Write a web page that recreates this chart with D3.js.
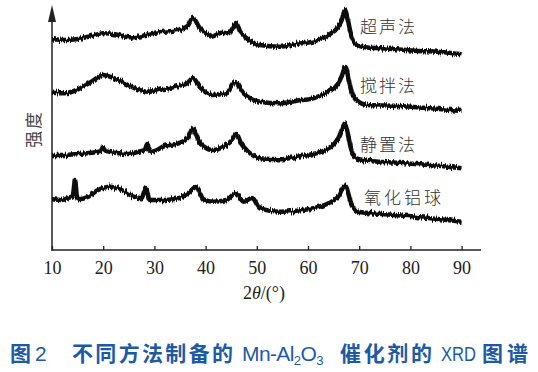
<!DOCTYPE html>
<html>
<head>
<meta charset="utf-8">
<script src="https://cdn.jsdelivr.net/npm/d3@7"></script>
<style>
  html, body { margin: 0; padding: 0; background: #fff; }
  svg { display: block; }
</style>
</head>
<body>
<svg id="chart" width="538" height="372"></svg>
<script>
// ---- Data (2θ in degrees, intensity in arbitrary units incl. vertical offsets) ----
const seriesNames = ["超声法", "搅拌法", "静置法", "氧化铝球"];

const theta1 = [10,12.5,15.1,17.7,20,22.3,24.9,26.9,29.5,32,35,36.5,37.5,38.9,40,41.2,43.1,44.4,45.2,45.9,46.8,48,50.6,54.5,57.8,61,64,65.9,66.6,67.2,67.8,68.2,69.2,71.1,74.4,80.9,87.4,90];
const inten1 = [210.7,210,211,214,216.7,215.7,212.7,213.3,216.7,218.3,220.7,224,232,221.7,217,213.3,217.3,216.7,221,227,218,211.7,205,203.3,206,208.3,215,223.3,230,240,230,220,206.7,202.7,201.7,199.3,197.3,195.7];

const theta2 = [10,12.5,15.1,17.7,20,21.7,23.6,26.2,28.8,31.4,34.7,36.5,37.5,38.9,41.2,44.1,45.8,47.4,50.6,54.5,57.8,61,64,65.9,66.6,67.3,67.9,68.3,69.4,71.7,77.4,83.9,90];
const inten2 = [157.3,156.7,160.7,168.3,175,172.7,168.3,161.7,158.3,160.7,164,167,172,162.7,155,156.7,168,156.7,148.3,146.7,149.3,151.7,158.3,166.7,174,183,172,161.7,150,145,144,141.7,139];

const theta3 = [10,12.5,15.1,17.7,19.5,20,20.5,22.3,24.9,26.9,28.1,28.6,29.1,29.5,32,34.7,36.5,37.5,38.9,41.5,43.5,45.2,46,47,48,50.6,54.5,57.8,61,64,65.9,66.6,67.2,67.8,68.3,69.4,71.7,77.4,83.9,90];
const inten3 = [95,95,96,97.3,99,103,99,97.3,96,98.3,100,106,100,98.3,104,106.7,112,121.5,106.7,100,103.3,110,116,106,100,91.7,90.7,93.3,96,101.7,111.7,120,126.5,116,103.3,91.7,89.3,87.3,85,81.7];

const theta4 = [10,11.9,13.5,14.1,14.5,14.9,15.1,17.1,19,21.3,23.6,25.9,27.5,28.3,29.1,32,34.7,36.7,38.1,39.6,41.5,44.1,45.9,47.4,49.1,50.6,54.5,57.8,61,64,65.9,67.2,68.5,69.8,74.4,80.9,90];
const inten4 = [50.7,50,52.7,54,70,53,50.7,53.3,60,63.3,60,53.3,51.7,62,50,50,51.7,57.3,63,50.7,48.3,50,57,48.3,52,41.7,38.3,39.3,41.7,46.7,53.3,64.5,46,38.3,36,33.3,28.3];

const xTicks = [10,20,30,40,50,60,70,80,90];

// ---- Layout ----
const svg = d3.select("#chart");
const defs = svg.append("defs");
const filt = defs.append("filter").attr("id","noise")
  .attr("x","-2%").attr("y","-30%").attr("width","104%").attr("height","160%");
filt.append("feTurbulence").attr("type","fractalNoise")
  .attr("baseFrequency","1.2 0.04").attr("numOctaves",2).attr("seed",4).attr("result","t");
filt.append("feColorMatrix").attr("in","t").attr("type","matrix")
  .attr("values","0 0 0 0 0.5  0 1 0 0 0  0 0 1 0 0  0 0 0 0 1").attr("result","t2");
filt.append("feDisplacementMap").attr("in","SourceGraphic").attr("in2","t2")
  .attr("scale",6).attr("xChannelSelector","R").attr("yChannelSelector","G");

const x = d3.scaleLinear().domain([10, 90]).range([52, 461.6]);
const y = d3.scaleLinear().domain([0, 245]).range([250, 5]);

const axisColor = "#222";

// x axis
const xAxis = d3.axisBottom(x).tickValues(xTicks).tickSizeInner(-4).tickSizeOuter(0).tickPadding(11);
const gx = svg.append("g").attr("transform", "translate(0,250)").call(xAxis);
gx.select(".domain").remove();
gx.selectAll(".tick line").attr("stroke", axisColor).attr("stroke-width", 1.3);
gx.selectAll(".tick text")
  .attr("font-family", "'Liberation Serif', 'DejaVu Serif', serif")
  .attr("font-size", 18).attr("fill", "#222");
svg.append("line").attr("x1", 51.5).attr("x2", 481).attr("y1", 250).attr("y2", 250)
  .attr("stroke", axisColor).attr("stroke-width", 1.5);

// y axis with arrow
svg.append("line").attr("x1", 52).attr("x2", 52).attr("y1", 250.7).attr("y2", 18)
  .attr("stroke", axisColor).attr("stroke-width", 1.5);
svg.append("path").attr("d", "M52,5 L56,22 L48,22 Z").attr("fill", axisColor);

// y label
svg.append("text")
  .attr("transform", "translate(40,129) rotate(-90)")
  .attr("text-anchor", "middle")
  .attr("font-family", "'Noto Sans CJK SC', sans-serif").attr("font-weight", 400)
  .attr("font-size", 17).attr("fill", "#444").attr("letter-spacing", 2)
  .text("强度");

// x title
const xt = svg.append("text").attr("x", 264).attr("y", 299).attr("text-anchor", "middle")
  .attr("font-family", "'Liberation Serif', 'DejaVu Serif', serif")
  .attr("font-size", 18).attr("fill", "#222");
xt.append("tspan").text("2");
xt.append("tspan").attr("font-style", "italic").text("θ");
xt.append("tspan").text("/(°)");

// curves
const series = [
  {name: seriesNames[0], t: theta1, v: inten1},
  {name: seriesNames[1], t: theta2, v: inten2},
  {name: seriesNames[2], t: theta3, v: inten3},
  {name: seriesNames[3], t: theta4, v: inten4}
];
const line = d3.line().x(d => x(d[0])).y(d => y(d[1])).curve(d3.curveMonotoneX);
series.forEach(s => {
  const pts = s.t.map((t, i) => [t, s.v[i]]);
  svg.append("path").datum(pts).attr("d", line)
    .attr("fill", "none").attr("stroke", "#111").attr("stroke-width", 4.5)
    .attr("stroke-linejoin", "round").attr("filter", "url(#noise)");
});

// curve labels
const labelPos = [[360, 27], [360, 86], [360, 145], [364, 198]];
series.forEach((s, i) => {
  svg.append("text").attr("x", labelPos[i][0]).attr("y", labelPos[i][1]).attr("dy", "0.35em")
    .attr("font-family", "'Noto Sans CJK SC', sans-serif").attr("font-weight", 300)
    .attr("font-size", 17).attr("fill", "#333").attr("letter-spacing", i === 3 ? 3 : 2)
    .text(s.name);
});

// caption
const capColor = "#1d5aa6";
const cap = [
  {t: "图", x: 10, w: 21},
  {t: "2", x: 35, w: 0},
  {t: "不同方法制备的", x: 72, w: 161},
  {t: "催化剂的", x: 340, w: 92},
  {t: "XRD", x: 441, w: 35},
  {t: "图谱", x: 482, w: 46}
];
cap.forEach(c => {
  const isLatin = /^[A-Z0-9]+$/.test(c.t);
  const tx = svg.append("text").attr("x", c.x).attr("y", 361)
    .attr("font-family", isLatin ? "'Liberation Sans', Arial, sans-serif" : "'Noto Sans CJK SC', sans-serif")
    .attr("font-weight", isLatin ? 400 : 700)
    .attr("font-size", 21).attr("fill", capColor)
    .text(c.t);
  if (c.w > 0) tx.attr("textLength", c.w).attr("lengthAdjust", isLatin ? "spacingAndGlyphs" : "spacing");
});
const mn = svg.append("text").attr("x", 242).attr("y", 361)
  .attr("font-family", "'Liberation Sans', Arial, sans-serif").attr("font-weight", 400)
  .attr("font-size", 21).attr("fill", capColor).attr("letter-spacing", -0.6);
mn.append("tspan").text("Mn-Al");
mn.append("tspan").attr("font-size", 13).attr("dy", 4).text("2");
mn.append("tspan").attr("dy", -4).text("O");
mn.append("tspan").attr("font-size", 13).attr("dy", 4).text("3");
</script>
</body>
</html>
